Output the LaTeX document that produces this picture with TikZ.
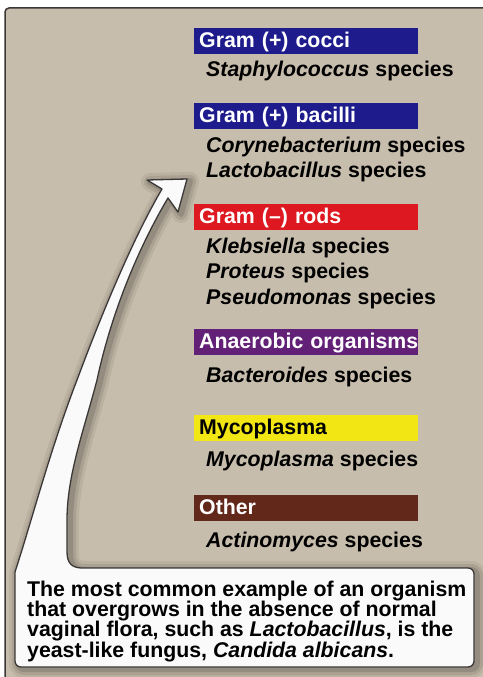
\documentclass[tikz,border=0pt]{standalone}
\usepackage{fontspec}
\setmainfont{Liberation Sans}
\usetikzlibrary{positioning}
\definecolor{florabg}{RGB}{199,189,172}
\definecolor{florablue}{RGB}{30,28,140}
\definecolor{florared}{RGB}{222,24,32}
\definecolor{florapurple}{RGB}{98,32,118}
\definecolor{florayellow}{RGB}{242,230,20}
\definecolor{florabrown}{RGB}{98,40,26}
\definecolor{floraframe}{RGB}{60,55,55}
\definecolor{floranote}{RGB}{250,250,250}

\tikzset{
  grouphead/.style={fill=#1, text=white, anchor=north west, inner xsep=5pt,
    inner ysep=0pt, text width=214pt, minimum height=26pt, text height=16.5pt,
    text depth=3.5pt, align=left, font=\fontsize{21.3}{24}\selectfont\bfseries},
  species/.style={anchor=base west, inner sep=0pt,
    font=\fontsize{21.3}{24}\selectfont\bfseries},
  notetext/.style={anchor=north west, inner sep=0pt, align=left,
    font=\fontsize{21.3}{20.3}\selectfont\bfseries},
  callout shape/.style={insert path={
    (15,600) -- (15,572) .. controls (32,520) and (50,450) .. (77,380)
    .. controls (105,305) and (135,235) .. (162,189)
    -- (147,180) -- (187,179) -- (178,212) -- (168,198)
    .. controls (140,245) and (112,310) .. (97,380)
    .. controls (84,430) and (67,475) .. (67,520)
    -- (67,552) .. controls (67,563) and (72,568) .. (82,568)
    {[rounded corners=6pt] -- (474,568) -- (474,667) -- (15,667) -- cycle}}}
}

\begin{document}
\begin{tikzpicture}[x=1pt,y=-1pt]
  \useasboundingbox (0,0) rectangle (482,677);
  % frame
  \draw[floraframe,line width=1.5pt,fill=florabg,rounded corners=4pt]
    (5,8) rectangle (495,690);
  % soft shadow of the callout
  \foreach \w/\o in {18/0.06,12/0.09,6/0.13}{
    \draw[shift={(3,2)},line width=\w pt,black,opacity=\o,line join=round,
      callout shape];
  }
  % callout with arrow
  \draw[floraframe,line width=1.3pt,fill=floranote,line join=round,
    callout shape];
  % group headers
  \node[grouphead=florablue] (gcocci) at (194,28) {Gram (+) cocci};
  \node[grouphead=florablue] (gbacilli) at (194,103) {Gram (+) bacilli};
  \node[grouphead=florared] (grods) at (194,204) {Gram (--) rods};
  \node[grouphead=florapurple] (ganaer) at (194,329) {\mbox{Anaerobic organisms}};
  \node[grouphead=florayellow,text=black] (gmyco) at (194,415) {Mycoplasma};
  \node[grouphead=florabrown] (gother) at (194,495) {Other};
  % species
  \foreach \n/\y/\txt in {
      staph/77/{\textit{Staphylococcus} species},
      coryne/152/{\textit{Corynebacterium} species},
      lacto/177/{\textit{Lactobacillus} species},
      kleb/253/{\textit{Klebsiella} species},
      proteus/278/{\textit{Proteus} species},
      pseudo/304/{\textit{Pseudomonas} species},
      bactero/382/{\textit{Bacteroides} species},
      myco/466/{\textit{Mycoplasma} species},
      actino/547/{\textit{Actinomyces} species}}{
    \node[species] (\n) at (206,\y) {\txt};
  }
  % note
  \node[notetext] (note) at (27,580.5) {The most common example of an organism\\
    that overgrows in the absence of normal\\
    vaginal flora, such as \textit{Lactobacillus}, is the\\
    yeast-like fungus, \textit{Candida albicans}.};
\end{tikzpicture}
\end{document}
